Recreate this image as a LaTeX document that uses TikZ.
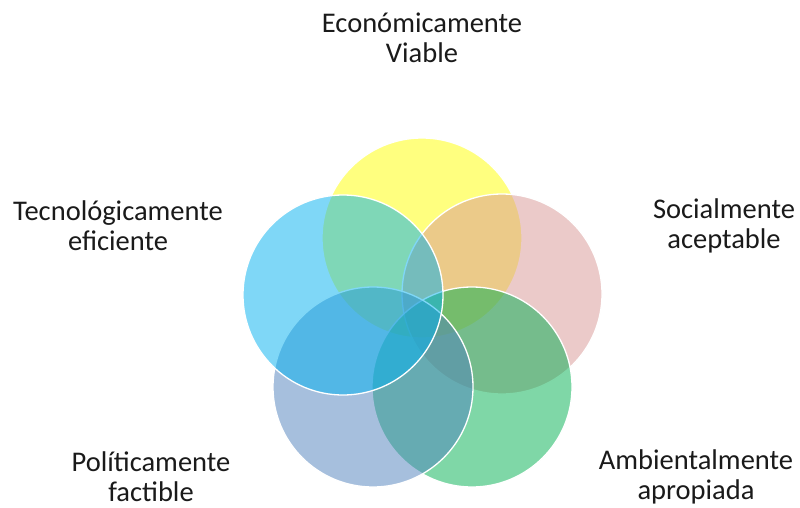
\documentclass[tikz,border=0pt]{standalone}
\usepackage{fontspec}
\setmainfont{Carlito}
\definecolor{cyel}{HTML}{FFFF00}
\definecolor{cpink}{HTML}{D99694}
\definecolor{cgreen}{HTML}{00B050}
\definecolor{cgrey}{HTML}{4F81BD}
\definecolor{cblue}{HTML}{00B0F0}
\definecolor{ctext}{HTML}{1A1A1A}
\begin{document}
\begin{tikzpicture}[x=1pt,y=-1pt,
  petal/.style={circle, minimum size=200pt, inner sep=0pt, fill opacity=0.5, draw=white, draw opacity=1, line width=1.3pt},
  lbl/.style={align=center, text=ctext, font=\fontsize{28.5}{30}\selectfont, inner sep=0pt}]
\useasboundingbox[fill=white] (0,0) rectangle (800,508);
\node[petal, fill=cyel]  (eco) at (422,238) {};
\node[petal, fill=cpink] (soc) at (502,294) {};
\node[petal, fill=cgreen] (amb) at (472,387) {};
\node[petal, fill=cgrey] (pol) at (373,387) {};
\node[petal, fill=cblue] (tec) at (343,295) {};
\node[lbl] (teco) at (422,38) {Económicamente\\Viable};
\node[lbl] (ttec) at (118,226) {Tecnológicamente\\eficiente};
\node[lbl] (tsoc) at (724,226) {Socialmente\\aceptable};
\node[lbl] (tpol) at (151,477) {Políticamente\\factible};
\node[lbl] (tamb) at (696,477) {Ambientalmente\\apropiada};
\end{tikzpicture}
\end{document}
